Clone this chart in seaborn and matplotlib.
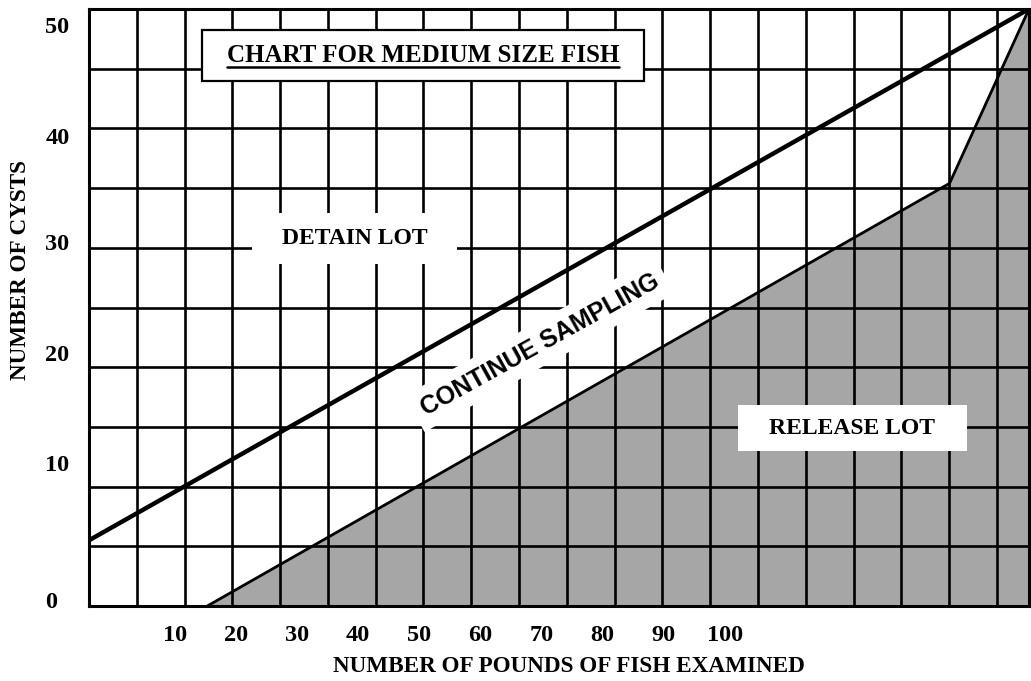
import numpy as np
import seaborn as sns
import matplotlib.pyplot as plt

# boundary lines (pounds examined vs number of cysts)
detain_x = [-4.07, 149.8]
detain_y = [5.5, 50.0]
release_x = [15.3, 136.8, 149.8]
release_y = [0.0, 35.4, 50.0]

x_ticks = [10, 20, 30, 40, 50, 60, 70, 80, 90, 100]
x_labels = [str(v) for v in x_ticks]
y_labels = ['0', '10', '20', '30', '40', '50']
# the scanned chart prints the y labels slightly off the grid
y_label_pos = [0.5, 12.0, 21.2, 30.5, 39.4, 48.7]


def main():
    sns.set_theme(style='white')
    plt.rcParams['font.family'] = ['Liberation Serif', 'DejaVu Serif']
    plt.rcParams['font.weight'] = 'bold'

    fig = plt.figure(figsize=(10.31, 6.81), dpi=100)
    ax = fig.add_axes([89 / 1031, 75 / 681, 940 / 1031, 597 / 681])

    # release area
    ax.fill_between(release_x, 0, release_y, color='#a6a6a6', lw=0, zorder=1)

    sns.lineplot(x=detain_x, y=detain_y, color='black', lw=3.2, ax=ax, zorder=4)
    sns.lineplot(x=release_x, y=release_y, color='black', lw=2.0, ax=ax, zorder=4)

    ax.set_xlim(-4.07, 149.8)
    ax.set_ylim(0, 50)

    # chart grid: 20 columns x 10 rows
    ax.set_xticks(-4.07 + 7.822 * np.arange(1, 20), minor=True)
    ax.set_yticks(np.arange(5, 50, 5), minor=True)
    ax.grid(False, which='major')
    ax.grid(True, which='minor', color='black', lw=1.9)
    ax.set_axisbelow(False)

    ax.set_xticks(x_ticks, x_labels)
    ax.set_yticks(y_label_pos, y_labels)
    ax.tick_params(which='both', length=0, labelsize=17.5, labelcolor='black')
    ax.tick_params(axis='x', which='major', pad=14)
    ax.tick_params(axis='y', which='major', pad=31.5)
    for lbl in ax.get_yticklabels():
        lbl.set_ha('left')
        lbl.set_fontweight('bold')
    for lbl in ax.get_xticklabels():
        lbl.set_fontweight('bold')

    for s in ax.spines.values():
        s.set_visible(True)
        s.set_color('black')
        s.set_linewidth(2.2)

    ax.set_xlabel('NUMBER OF POUNDS OF FISH EXAMINED', fontsize=16.7,
                  fontweight='bold', color='black', va='center')
    ax.xaxis.set_label_coords(0.511, -0.102)
    ax.set_ylabel('NUMBER OF CYSTS', fontsize=16.7, fontweight='bold',
                  color='black', va='center')
    ax.yaxis.set_label_coords(-0.073, 0.563)

    title = ax.text(50.6, 46.1, 'CHART FOR MEDIUM SIZE FISH', ha='center', va='center',
                    fontsize=18, fontweight='bold', color='black', zorder=6,
                    bbox=dict(boxstyle='square,pad=1.0', fc='white', ec='black',
                              lw=1.6, mutation_aspect=0.55))
    ax.text(39.4, 30.8, 'DETAIN LOT', ha='center', va='center', fontsize=17,
            fontweight='bold', color='black', zorder=3,
            bbox=dict(boxstyle='square,pad=1.27', fc='white', ec='none', mutation_aspect=0.5))
    ax.text(120.9, 14.9, 'RELEASE LOT', ha='center', va='center', fontsize=17,
            fontweight='bold', color='black', zorder=3,
            bbox=dict(boxstyle='square,pad=1.33', fc='white', ec='none', mutation_aspect=0.4))
    ax.text(69.7, 21.9, 'CONTINUE SAMPLING', ha='center', va='center', rotation=29,
            rotation_mode='anchor', fontsize=18, fontweight='bold', color='black',
            family=['Liberation Sans', 'DejaVu Sans'], zorder=3,
            bbox=dict(boxstyle='square,pad=0.35', fc='white', ec='none'))

    # underline the chart title
    fig.canvas.draw()
    bb = title.get_window_extent(fig.canvas.get_renderer())
    (x0, y0), (x1, _) = ax.transAxes.inverted().transform([[bb.x0, bb.y0], [bb.x1, bb.y0]])
    ax.plot([x0, x1], [y0, y0], color='black', lw=1.8, transform=ax.transAxes,
            clip_on=False, zorder=7)

    plt.savefig('out.png', dpi=100, facecolor='white')


if __name__ == '__main__':
    main()
